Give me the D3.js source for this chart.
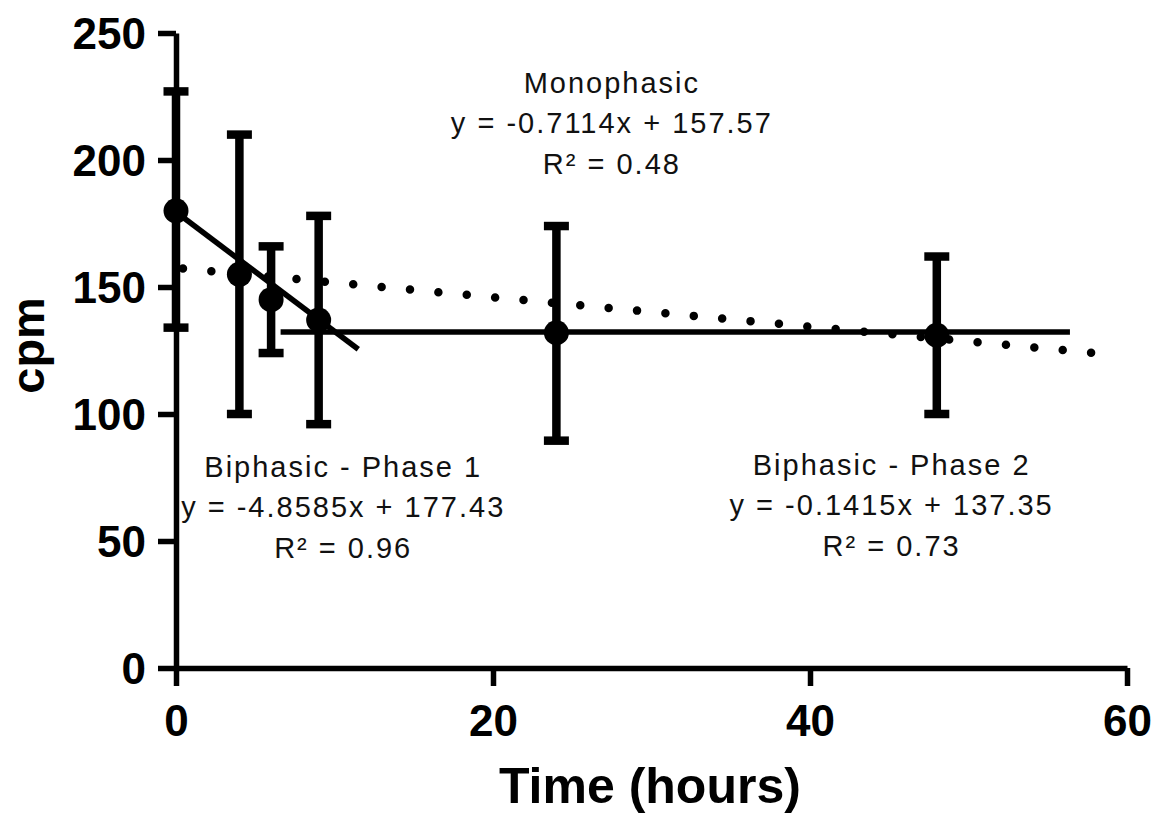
<!DOCTYPE html>
<html>
<head>
<meta charset="utf-8">
<script src="https://cdn.jsdelivr.net/npm/d3@7"></script>
<style>
  body { margin: 0; background: #fff; }
  svg { display: block; font-family: "Liberation Sans", Arial, sans-serif; }
</style>
</head>
<body>
<div id="chart"></div>
<script>
const times = [0, 4, 6, 9, 24, 48];
const means = [180, 155, 145, 137, 132, 131];
const lows = [134, 100, 124, 96, 89.5, 100];
const highs = [227, 210, 166, 178, 174, 162];

// fitted lines as drawn
const phase1Line = [[0, 179.5], [11.5, 125.5]];
const phase2Line = [[6.6, 132.3], [56.4, 132.3]];
const monoLine = [[0, 157.5], [58, 124]];

const xTicks = [0, 20, 40, 60];
const yTicks = [0, 50, 100, 150, 200, 250];

// x = centre (hours), y = first baseline (cpm)
const labels = [
  { x: 27.5, y: 226.4, lines: ["Monophasic", "y = -0.7114x + 157.57", "R\u00b2 = 0.48"] },
  { x: 10.55, y: 75.2, lines: ["Biphasic - Phase 1", "y = -4.8585x + 177.43", "R\u00b2 = 0.96"] },
  { x: 45.15, y: 76, lines: ["Biphasic - Phase 2", "y = -0.1415x + 137.35", "R\u00b2 = 0.73"] },
];

const width = 1160, height = 816;
const margin = { left: 176, right: 33, top: 33, bottom: 148 };

const svg = d3.select("#chart").append("svg")
  .attr("width", width)
  .attr("height", height);

const x = d3.scaleLinear().domain([0, 60]).range([margin.left, width - margin.right]);
const y = d3.scaleLinear().domain([0, 250]).range([height - margin.bottom, margin.top]);

// axes
const xAxis = svg.append("g")
  .attr("transform", `translate(0,${y(0)})`)
  .call(d3.axisBottom(x).tickValues(xTicks).tickSize(18).tickPadding(19).tickSizeOuter(0));
const yAxis = svg.append("g")
  .attr("transform", `translate(${x(0)},0)`)
  .call(d3.axisLeft(y).tickValues(yTicks).tickSize(18).tickPadding(12).tickSizeOuter(0));

[xAxis, yAxis].forEach((a) => {
  a.select(".domain").attr("stroke", "#000").attr("stroke-width", 5.5);
  a.selectAll(".tick line").attr("stroke", "#000").attr("stroke-width", 5.5);
  a.selectAll(".tick text")
    .attr("fill", "#000")
    .style("font-size", "44px")
    .style("font-weight", "bold")
    .style("font-family", "'Liberation Sans', Arial, sans-serif");
});
yAxis.selectAll(".tick text").attr("dy", "0.36em");

// axis titles
svg.append("text")
  .attr("x", x(29.9))
  .attr("y", 803)
  .attr("text-anchor", "middle")
  .style("font-size", "50px")
  .style("font-weight", "bold")
  .text("Time (hours)");

svg.append("text")
  .attr("transform", `translate(44,${y(127)}) rotate(-90)`)
  .attr("text-anchor", "middle")
  .style("font-size", "47px")
  .style("font-weight", "bold")
  .text("cpm");

const line = d3.line().x((d) => x(d[0])).y((d) => y(d[1]));

// monophasic dotted fit
svg.append("path")
  .attr("d", line(monoLine))
  .attr("fill", "none")
  .attr("stroke", "#000")
  .attr("stroke-width", 8.5)
  .attr("stroke-linecap", "round")
  .attr("stroke-dasharray", "0 28.5")
  .attr("stroke-dashoffset", 21.5);

// biphasic fits
[phase1Line, phase2Line].forEach((l) => {
  svg.append("path")
    .attr("d", line(l))
    .attr("fill", "none")
    .attr("stroke", "#000")
    .attr("stroke-width", 5.5);
});

// error bars + points
const data = times.map((t, i) => ({ t, m: means[i], lo: lows[i], hi: highs[i] }));
const bars = svg.append("g").selectAll("g").data(data).join("g");

bars.append("line")
  .attr("x1", (d) => x(d.t)).attr("x2", (d) => x(d.t))
  .attr("y1", (d) => y(d.lo)).attr("y2", (d) => y(d.hi))
  .attr("stroke", "#000").attr("stroke-width", 8.5);

bars.selectAll("line.cap")
  .data((d) => [{ t: d.t, v: d.lo }, { t: d.t, v: d.hi }])
  .join("line")
  .attr("class", "cap")
  .attr("x1", (d) => x(d.t) - 12.5).attr("x2", (d) => x(d.t) + 12.5)
  .attr("y1", (d) => y(d.v)).attr("y2", (d) => y(d.v))
  .attr("stroke", "#000").attr("stroke-width", 8.5);

bars.append("circle")
  .attr("cx", (d) => x(d.t))
  .attr("cy", (d) => y(d.m))
  .attr("r", 12.5)
  .attr("fill", "#000");

// fit equations
labels.forEach((lb) => {
  const t = svg.append("text")
    .attr("text-anchor", "middle")
    .style("font-size", "29px")
    .style("letter-spacing", "2px")
    .attr("fill", "#111");
  lb.lines.forEach((s, i) => {
    t.append("tspan")
      .attr("x", x(lb.x))
      .attr("y", y(lb.y) + i * 40.5)
      .text(s);
  });
});
</script>
</body>
</html>
